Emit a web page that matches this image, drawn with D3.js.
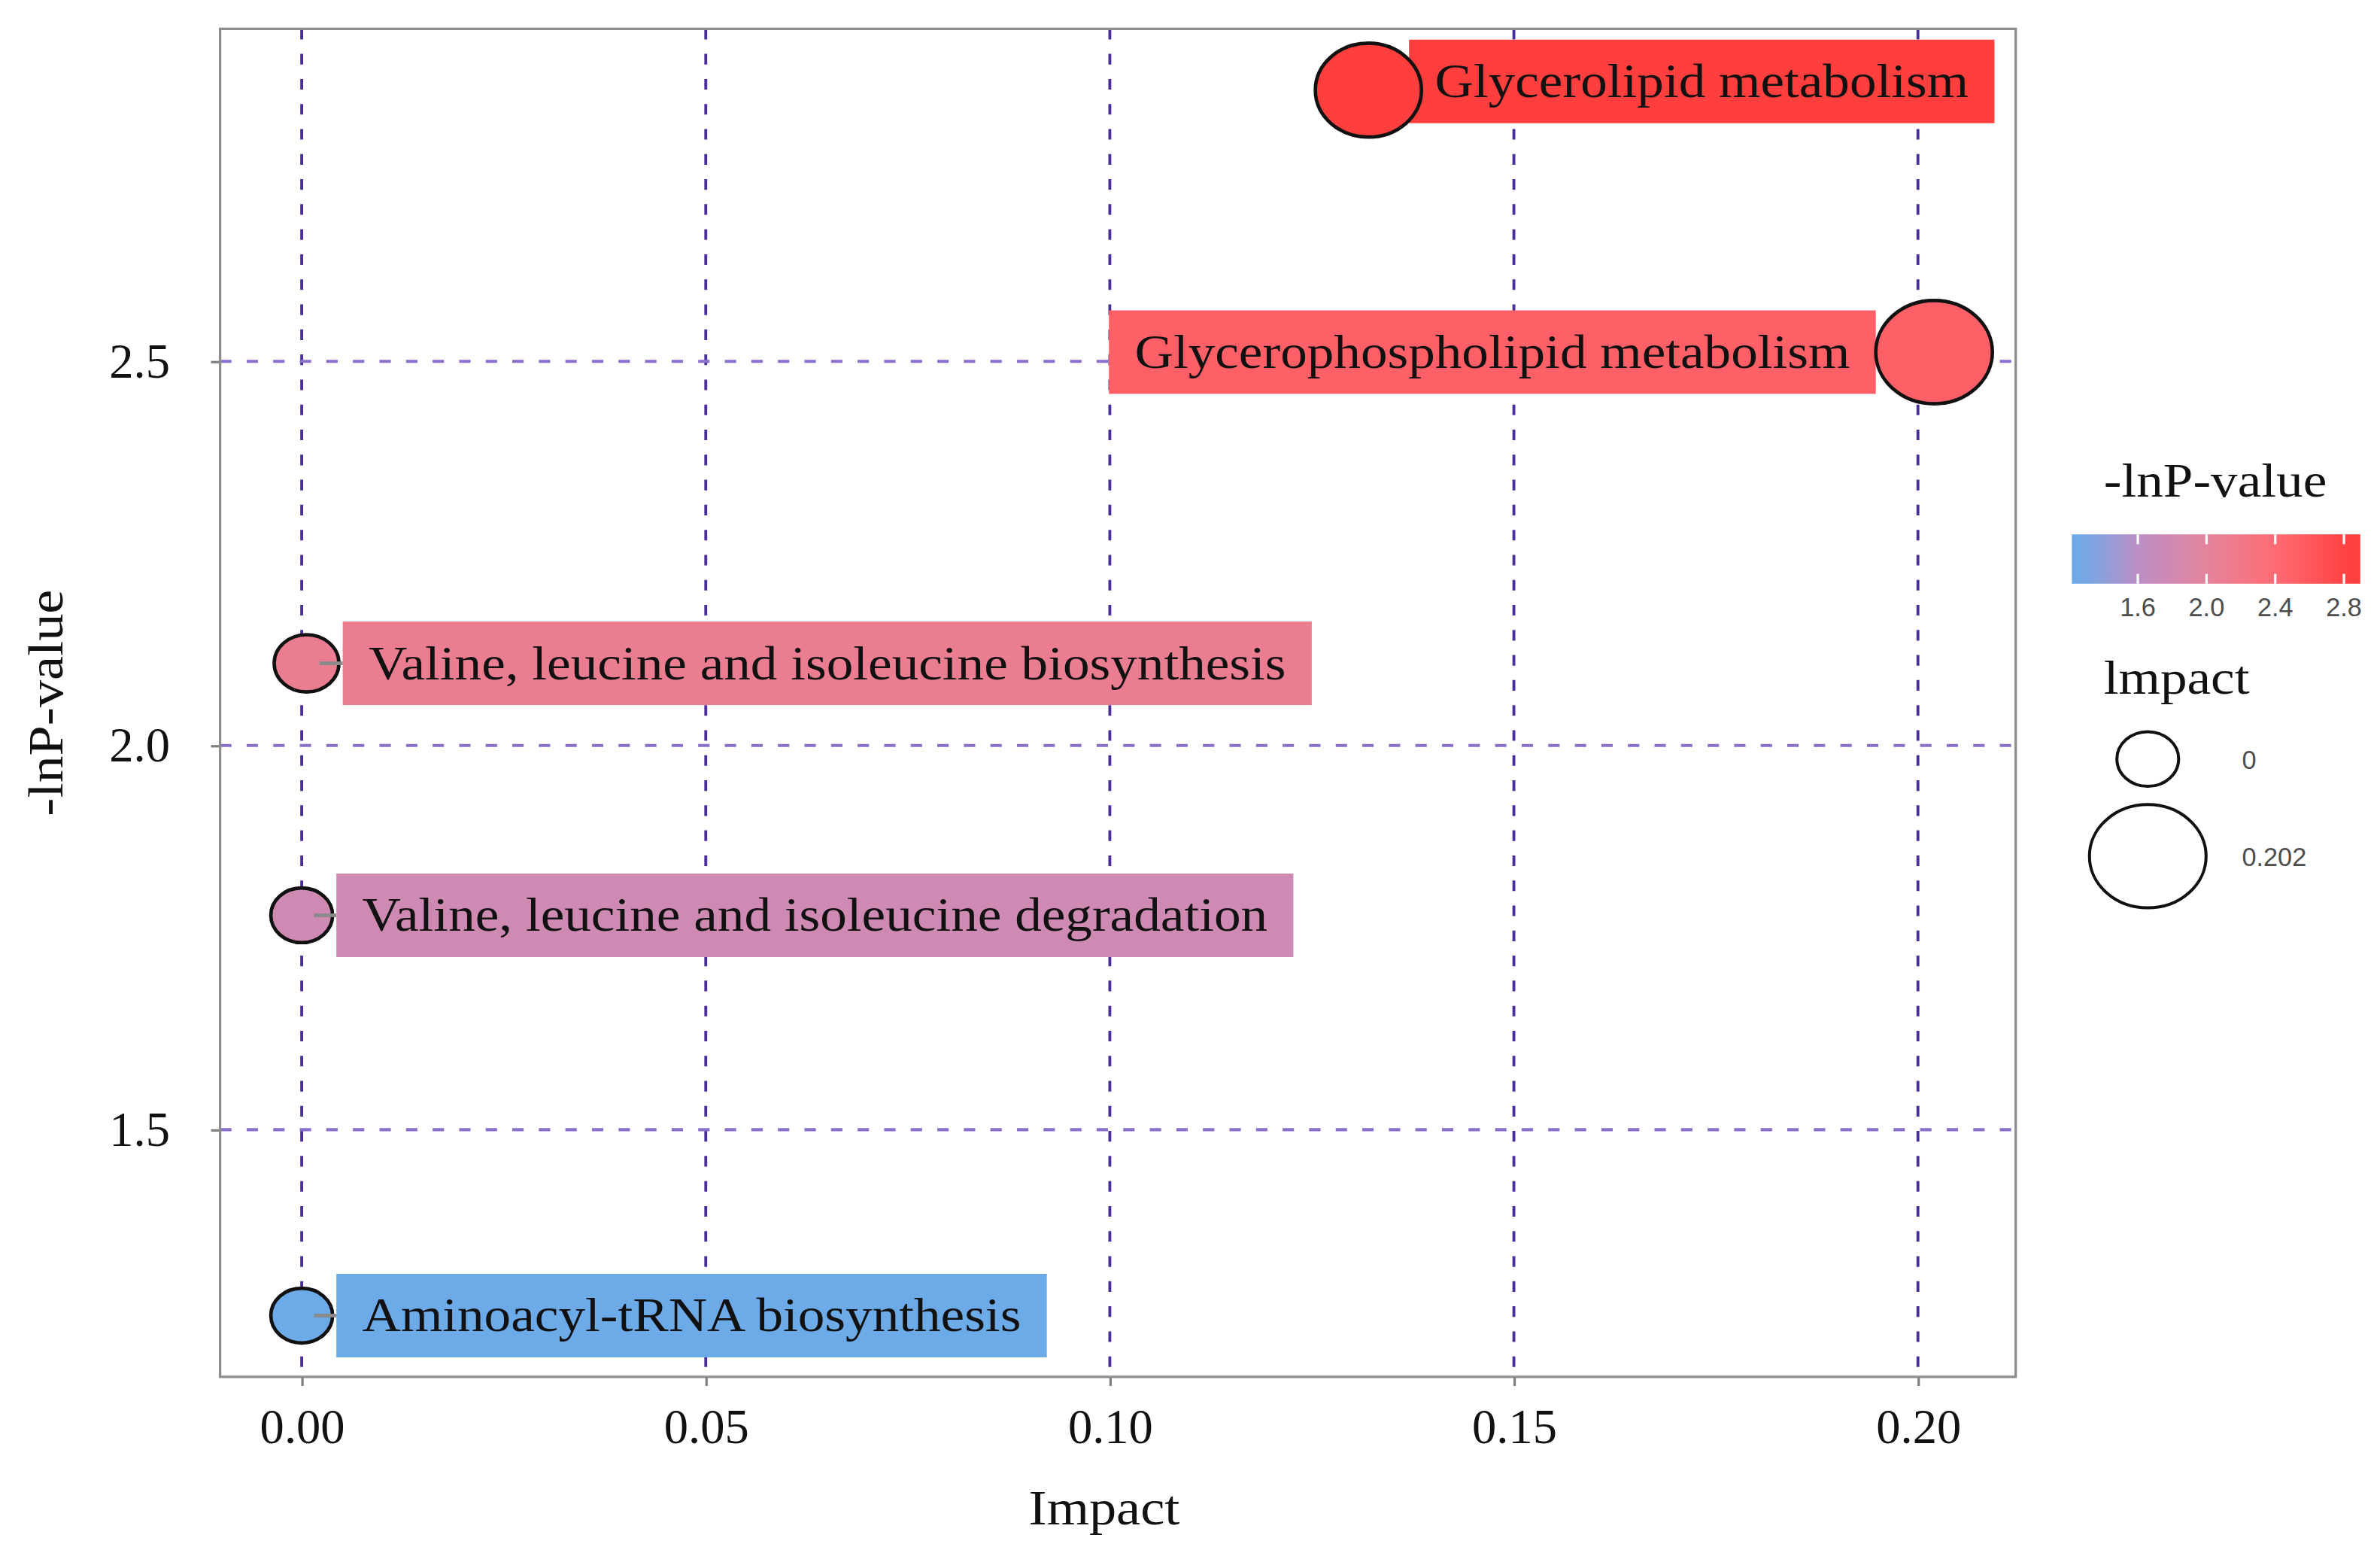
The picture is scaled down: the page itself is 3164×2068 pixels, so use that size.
<!DOCTYPE html>
<html>
<head>
<meta charset="utf-8">
<title>Pathway impact bubble chart</title>
<script src="https://d3js.org/d3.v7.min.js"></script>
<style>
  html, body { margin: 0; padding: 0; background: #fff; }
  svg { display: block; }
</style>
</head>
<body>
<script>
// values
const pathways = [
  "Glycerolipid metabolism",
  "Glycerophospholipid metabolism",
  "Valine, leucine and isoleucine biosynthesis",
  "Valine, leucine and isoleucine degradation",
  "Aminoacyl-tRNA biosynthesis"
]
const impact = [0.132, 0.202, 0.0006, 0, 0]
const lnP = [2.853, 2.512, 2.107, 1.779, 1.258]

const xTicks = [0, 0.05, 0.10, 0.15, 0.20]
const yTicks = [1.5, 2.0, 2.5]
const colorTicks = [1.6, 2.0, 2.4, 2.8]
const sizeTicks = [0, 0.202]

const W = 1568, H = 1025
const panel = {left: 145, right: 1328, top: 19, bottom: 907}
const serif = "'Liberation Serif', 'Times New Roman', serif"
const sans = "'Liberation Sans', Arial, sans-serif"
const stretch = 1.12

const svg = d3.select("body").append("svg")
  .attr("width", 3164)
  .attr("height", 2068)
  .attr("viewBox", `0 0 ${W} ${H}`)
  .attr("preserveAspectRatio", "none")

svg.append("rect").attr("width", W).attr("height", H).attr("fill", "#fff")

// ggplot-like 5% expansion
const expand = (ext) => {
  let pad = (ext[1] - ext[0]) * 0.05
  return [ext[0] - pad, ext[1] + pad]
}

let x = d3.scaleLinear()
  .domain(expand(d3.extent(impact)))
  .range([panel.left, panel.right])

let y = d3.scaleLinear()
  .domain(expand(d3.extent(lnP)))
  .range([panel.bottom, panel.top])

const pExt = d3.extent(lnP)
let color = d3.scaleLinear()
  .domain([pExt[0], 1.6, 2.0, 2.4, pExt[1]])
  .range(["#6daae8", "#bc8ec6", "#e4849c", "#ff6b74", "#ff3e3e"])
  .clamp(true)

let ry = d3.scaleSqrt()
  .domain([0, d3.max(impact)])
  .range([18, 34])
const rx = (d) => ry(d) * 1.13

// grid
const grid = svg.append("g")
grid.selectAll(".vgrid")
  .data(xTicks)
  .enter()
    .append("line")
    .attr("x1", (d) => x(d)).attr("x2", (d) => x(d))
    .attr("y1", panel.top).attr("y2", panel.bottom)
    .attr("stroke", "#4a2f9c")
    .attr("stroke-width", 1.9)
    .attr("stroke-dasharray", "7,9.5")

grid.selectAll(".hgrid")
  .data(yTicks)
  .enter()
    .append("line")
    .attr("x1", panel.left).attr("x2", panel.right)
    .attr("y1", (d) => y(d)).attr("y2", (d) => y(d))
    .attr("stroke", "#8a6fcb")
    .attr("stroke-width", 2)
    .attr("stroke-dasharray", "7.5,10")

// axes
const xAxis = svg.append("g")
  .attr("transform", `translate(0,${panel.bottom})`)
  .call(d3.axisBottom(x).tickValues(xTicks).tickFormat(d3.format(".2f")).tickSize(6).tickPadding(15))
const yAxis = svg.append("g")
  .attr("transform", `translate(${panel.left},0)`)
  .call(d3.axisLeft(y).tickValues(yTicks).tickFormat(d3.format(".1f")).tickSize(6).tickPadding(27))

;[xAxis, yAxis].forEach((a) => {
  a.select(".domain").remove()
  a.selectAll(".tick line").attr("stroke", "#7f7f7f").attr("stroke-width", 1.6)
  a.selectAll(".tick text")
    .attr("font-family", serif)
    .attr("font-size", 32)
    .attr("fill", "#111")
})

// panel border
svg.append("rect")
  .attr("x", panel.left).attr("y", panel.top)
  .attr("width", panel.right - panel.left)
  .attr("height", panel.bottom - panel.top)
  .attr("fill", "none")
  .attr("stroke", "#8c8c8c")
  .attr("stroke-width", 1.6)

// stretched serif text helper
const serifText = (g, str, tx, ty, size, anchor, rot) => {
  g.append("text")
    .attr("transform", `translate(${tx},${ty})` + (rot ? ` rotate(${rot})` : "") + ` scale(${stretch},1)`)
    .attr("font-family", serif)
    .attr("font-size", size)
    .attr("text-anchor", anchor)
    .attr("fill", "#111")
    .text(str)
}

serifText(svg, "Impact", (panel.left + panel.right) / 2 - 9, 1004, 32, "middle")
serifText(svg, "-lnP-value", 41, (panel.top + panel.bottom) / 2, 32, "middle", -90)

// labels + bubbles
const items = pathways.map((name, i) => ({name: name, imp: impact[i], p: lnP[i]}))
const labelSize = 31.5, padX = 17, boxH = 55

const boxes = svg.append("g")
const dots = svg.append("g")
const segs = svg.append("g")
const texts = svg.append("g")

items.forEach((d) => {
  let t = texts.append("text")
    .attr("font-family", serif)
    .attr("font-size", labelSize)
    .attr("fill", "#111")
    .text(d.name)
  let tw = t.node().getComputedTextLength() * stretch
  let bw = tw + padX * 2
  let cx = x(d.imp), cy = y(d.p), r = rx(d.imp)
  let space = panel.right - (cx + r)
  let x0, overlap
  if (space >= bw * 0.9) {
    x0 = Math.min(cx + r + 2.5, panel.right - 14 - bw)
    overlap = Math.max(0, cx + r - x0)
  } else {
    x0 = cx - r - bw
    overlap = 0
  }
  // push the box up when it had to overlap its bubble
  let y0 = Math.max(cy - boxH / 2 - overlap * 0.7, panel.top + 5)
  d.x0 = x0; d.bw = bw; d.cx = cx; d.cy = cy; d.r = r
  t.attr("transform", `translate(${x0 + padX},${y0 + boxH / 2 + labelSize * 0.33}) scale(${stretch},1)`)
  boxes.append("rect")
    .attr("x", x0).attr("y", y0)
    .attr("width", bw).attr("height", boxH)
    .attr("fill", color(d.p))
})

dots.selectAll("ellipse")
  .data(items)
  .enter()
    .append("ellipse")
    .attr("cx", (d) => d.cx)
    .attr("cy", (d) => d.cy)
    .attr("rx", (d) => d.r)
    .attr("ry", (d) => ry(d.imp))
    .attr("fill", (d) => color(d.p))
    .attr("stroke", "#111")
    .attr("stroke-width", 2.3)

segs.selectAll("line")
  .data(items.filter((d) => d.x0 - (d.cx + d.r) > 1))
  .enter()
    .append("line")
    .attr("x1", (d) => d.cx + d.r * 0.4)
    .attr("x2", (d) => d.x0)
    .attr("y1", (d) => d.cy)
    .attr("y2", (d) => d.cy)
    .attr("stroke", "#8a8a8a")
    .attr("stroke-width", 2.4)

// colour legend
const leg = svg.append("g")
serifText(leg, "-lnP-value", 1386, 327, 31.5, "start")

const bar = {x: 1365, y: 352, w: 190, h: 32.5}
const barSpan = (pExt[1] - pExt[0]) / 0.95
const barLo = pExt[0] - barSpan * 0.025
const bx = d3.scaleLinear().domain([barLo, barLo + barSpan]).range([bar.x, bar.x + bar.w])

const grad = svg.append("defs").append("linearGradient").attr("id", "cbar")
d3.range(0, 1.0001, 0.05).forEach((p) => {
  grad.append("stop")
    .attr("offset", p)
    .attr("stop-color", color(barLo + p * barSpan))
})
leg.append("rect")
  .attr("x", bar.x).attr("y", bar.y)
  .attr("width", bar.w).attr("height", bar.h)
  .attr("fill", "url(#cbar)")

leg.selectAll(".ctick")
  .data(colorTicks)
  .enter()
    .append("path")
    .attr("d", (d) => `M${bx(d)},${bar.y}v6.5M${bx(d)},${bar.y + bar.h}v-6.5`)
    .attr("stroke", "#fff")
    .attr("stroke-width", 1.6)

leg.selectAll(".clabel")
  .data(colorTicks)
  .enter()
    .append("text")
    .attr("x", (d) => bx(d))
    .attr("y", 406)
    .attr("text-anchor", "middle")
    .attr("font-family", sans)
    .attr("font-size", 17)
    .attr("fill", "#4d4d4d")
    .text((d) => d3.format(".1f")(d))

// size legend
serifText(leg, "lmpact", 1386, 457, 31.5, "start")
const sizeY = d3.scalePoint().domain(sizeTicks).range([500, 564])
leg.selectAll(".sdot")
  .data(sizeTicks)
  .enter()
    .append("ellipse")
    .attr("cx", 1415)
    .attr("cy", (d) => sizeY(d))
    .attr("rx", (d) => rx(d))
    .attr("ry", (d) => ry(d))
    .attr("fill", "none")
    .attr("stroke", "#111")
    .attr("stroke-width", 2)

leg.selectAll(".slabel")
  .data(sizeTicks)
  .enter()
    .append("text")
    .attr("x", 1477)
    .attr("y", (d) => sizeY(d) + 6.5)
    .attr("font-family", sans)
    .attr("font-size", 17)
    .attr("fill", "#4d4d4d")
    .text((d) => d)
</script>
</body>
</html>
